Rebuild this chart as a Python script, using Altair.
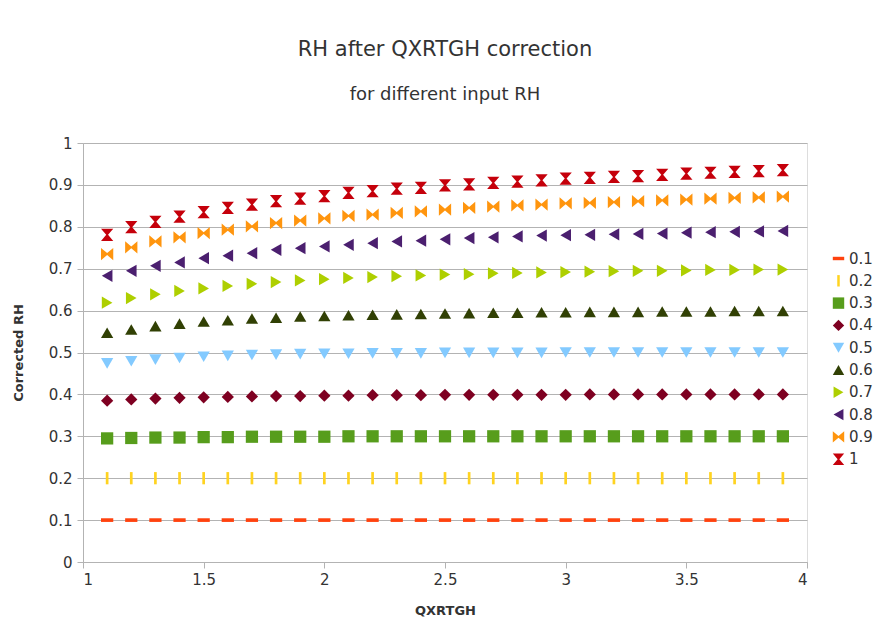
import altair as alt
import pandas as pd

x_vals = [1.1, 1.2, 1.3, 1.4, 1.5, 1.6, 1.7, 1.8, 1.9, 2.0,
          2.1, 2.2, 2.3, 2.4, 2.5, 2.6, 2.7, 2.8, 2.9, 3.0,
          3.1, 3.2, 3.3, 3.4, 3.5, 3.6, 3.7, 3.8, 3.9]

series_names = ["0.1", "0.2", "0.3", "0.4", "0.5", "0.6", "0.7", "0.8", "0.9", "1"]

rh_01 = [0.100] * 29
rh_02 = [0.200] * 29
rh_03 = [0.295, 0.296, 0.297, 0.297, 0.298, 0.298, 0.299, 0.299, 0.299, 0.299,
         0.300, 0.300, 0.300, 0.300, 0.300, 0.300, 0.300, 0.300, 0.300, 0.300,
         0.300, 0.300, 0.300, 0.300, 0.300, 0.300, 0.300, 0.300, 0.300]
rh_04 = [0.385, 0.388, 0.390, 0.392, 0.393, 0.394, 0.395, 0.396, 0.396, 0.397,
         0.397, 0.398, 0.398, 0.398, 0.399, 0.399, 0.399, 0.399, 0.399, 0.399,
         0.400, 0.400, 0.400, 0.400, 0.400, 0.400, 0.400, 0.400, 0.400]
rh_05 = [0.474, 0.479, 0.483, 0.487, 0.490, 0.492, 0.494, 0.495, 0.496, 0.497,
         0.497, 0.498, 0.498, 0.498, 0.499, 0.499, 0.499, 0.499, 0.499, 0.500,
         0.500, 0.500, 0.500, 0.500, 0.500, 0.500, 0.500, 0.500, 0.500]
rh_06 = [0.547, 0.555, 0.563, 0.569, 0.574, 0.577, 0.581, 0.583, 0.586, 0.587,
         0.589, 0.590, 0.591, 0.592, 0.593, 0.594, 0.595, 0.595, 0.596, 0.596,
         0.597, 0.597, 0.597, 0.598, 0.598, 0.598, 0.599, 0.599, 0.599]
rh_07 = [0.619, 0.630, 0.639, 0.647, 0.653, 0.659, 0.664, 0.668, 0.672, 0.675,
         0.678, 0.680, 0.682, 0.684, 0.686, 0.687, 0.689, 0.690, 0.691, 0.692,
         0.693, 0.694, 0.695, 0.695, 0.696, 0.697, 0.697, 0.698, 0.698]
rh_08 = [0.683, 0.695, 0.707, 0.715, 0.725, 0.731, 0.737, 0.745, 0.749, 0.753,
         0.757, 0.761, 0.765, 0.767, 0.770, 0.773, 0.775, 0.777, 0.779, 0.780,
         0.781, 0.782, 0.783, 0.784, 0.786, 0.787, 0.788, 0.789, 0.790]
rh_09 = [0.735, 0.751, 0.765, 0.775, 0.785, 0.793, 0.801, 0.809, 0.815, 0.820,
         0.826, 0.829, 0.833, 0.837, 0.841, 0.845, 0.848, 0.851, 0.853, 0.856,
         0.857, 0.859, 0.861, 0.863, 0.865, 0.867, 0.869, 0.870, 0.872]
rh_10 = [0.781, 0.799, 0.812, 0.824, 0.835, 0.845, 0.853, 0.861, 0.867, 0.873,
         0.881, 0.885, 0.891, 0.893, 0.899, 0.901, 0.905, 0.908, 0.911, 0.915,
         0.917, 0.919, 0.921, 0.924, 0.927, 0.929, 0.931, 0.933, 0.935]

all_series = [rh_01, rh_02, rh_03, rh_04, rh_05, rh_06, rh_07, rh_08, rh_09, rh_10]

colors = ["#ff420e", "#ffd320", "#579d1c", "#7e0021", "#83caff",
          "#314004", "#aecf00", "#4b1f6f", "#ff950e", "#c5000b"]

shapes = [
    "M-1,-0.3L1,-0.3L1,0.3L-1,0.3Z",            # horizontal bar
    "M-0.22,-1L0.22,-1L0.22,1L-0.22,1Z",        # vertical bar
    "square",
    "diamond",
    "triangle-down",
    "triangle-up",
    "triangle-right",
    "triangle-left",
    "M-1,-1L0,-0.15L1,-1L1,1L0,0.15L-1,1Z",     # bowtie
    "M-1,-1L1,-1L0.15,0L1,1L-1,1L-0.15,0Z",     # hourglass
]

rows = []
for name, vals in zip(series_names, all_series):
    for xv, yv in zip(x_vals, vals):
        rows.append({"QXRTGH": xv, "RH": yv, "series": name})
df = pd.DataFrame(rows)

font = "DejaVu Sans"

points = alt.Chart(df).mark_point(filled=True, opacity=1, size=150).encode(
    x=alt.X("QXRTGH:Q", title="QXRTGH",
            scale=alt.Scale(domain=[1, 4], nice=False, zero=False),
            axis=alt.Axis(values=[1, 1.5, 2, 2.5, 3, 3.5, 4], format="~g",
                          grid=False, domain=True, domainColor="#b3b3b3",
                          tickColor="#b3b3b3", tickSize=6,
                          labelFontSize=15, labelColor="#333333", labelPadding=4,
                          titleFontSize=13, titleFontWeight="bold", titleColor="#333333",
                          titlePadding=17)),
    y=alt.Y("RH:Q", title="Corrected RH",
            scale=alt.Scale(domain=[0, 1], nice=False),
            axis=alt.Axis(values=[0, 0.1, 0.2, 0.3, 0.4, 0.5, 0.6, 0.7, 0.8, 0.9, 1],
                          format="~g", grid=True, gridColor="#b3b3b3",
                          domain=True, domainColor="#b3b3b3",
                          tickColor="#b3b3b3", tickSize=6,
                          labelFontSize=15, labelColor="#333333", labelPadding=5,
                          titleFontSize=13, titleFontWeight="bold", titleColor="#333333",
                          titlePadding=23)),
    color=alt.Color("series:N", sort=series_names,
                    scale=alt.Scale(domain=series_names, range=colors),
                    legend=alt.Legend(title=None, orient="none", legendX=748, legendY=108,
                                      labelFontSize=15, labelColor="#333333",
                                      symbolSize=130, rowPadding=6.3, labelOffset=3,
                                      symbolStrokeWidth=0)),
    shape=alt.Shape("series:N", sort=series_names,
                    scale=alt.Scale(domain=series_names, range=shapes)),
)

chart = points.properties(
    width=724,
    height=419,
    title=alt.TitleParams(
        text="RH after QXRTGH correction",
        subtitle="for different input RH",
        fontSize=21, fontWeight="normal", color="#333333", font=font,
        subtitleFontSize=18, subtitleColor="#333333", subtitleFont=font,
        subtitlePadding=26, offset=32, anchor="middle",
    ),
    padding={"left": 75, "top": 135, "right": 77, "bottom": 56},
    autosize=alt.AutoSizeParams(type="none"),
).configure_view(
    stroke="#b3b3b3", strokeWidth=1
).configure(
    font=font, background="white"
)

chart.save("out.html", embed_options={"renderer": "svg", "actions": False})
